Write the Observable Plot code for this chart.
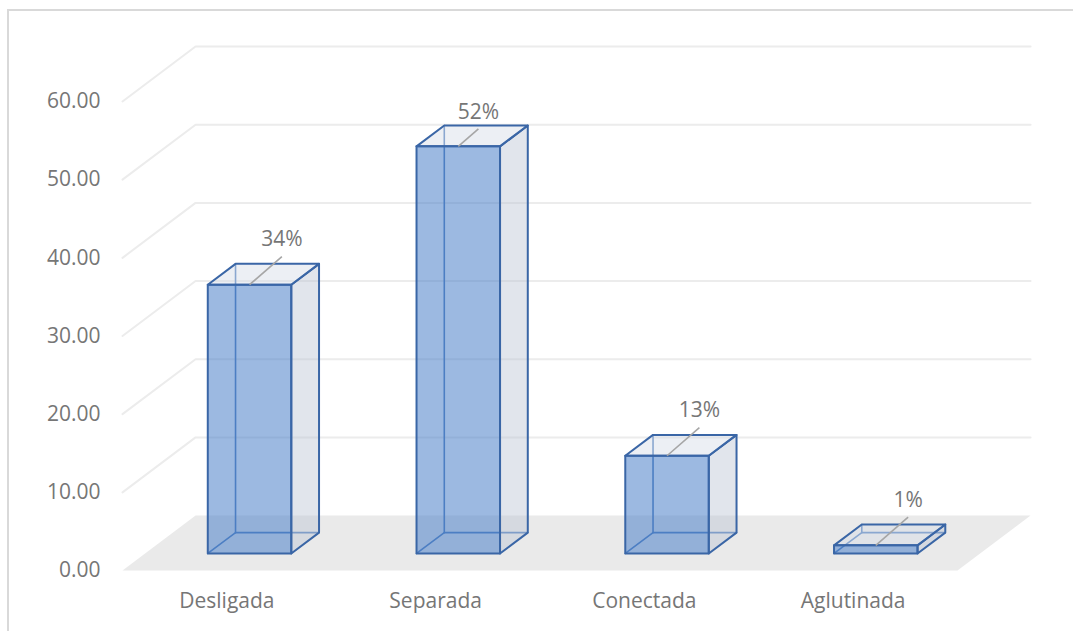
<!DOCTYPE html>
<html>
<head>
<meta charset="utf-8">
<script src="https://cdn.jsdelivr.net/npm/d3@7"></script>
<script src="https://cdn.jsdelivr.net/npm/@observablehq/plot@0.6"></script>
<style>
  html, body { margin: 0; padding: 0; background: #fff; }
  #wrap { position: relative; width: 1073px; height: 631px; overflow: hidden; }
  #border { position: absolute; left: 7px; top: 9px; width: 1100px; height: 700px;
            border-left: 2px solid #d9d9d9; border-top: 2px solid #d9d9d9; box-sizing: border-box; }
  #chart { position: absolute; left: 0; top: 0; }
</style>
</head>
<body>
<div id="wrap"><div id="border"></div><div id="chart"></div></div>
<script>
// ---- data ----
const categories = ["Desligada", "Separada", "Conectada", "Aglutinada"];
const values = [34.38, 52.08, 12.50, 1.04];
const labels = ["34%", "52%", "13%", "1%"];
const yTicks = [0, 10, 20, 30, 40, 50, 60];

// ---- oblique projection constants (in data units) ----
const DX = 0.35;   // depth shift along x (band units)
const DY = 7.03;   // depth shift along y (value units)
const P = (x, d, h) => ({x: x + d * DX, y: h + d * DY});
const d0 = 0.31, d1 = 0.69, bw = 0.4;

// floor
const floorPts = [P(0,0,0), P(4,0,0), P(4,1,0), P(0,1,0), P(0,0,0)].map(p => ({...p, z: "floor"}));

// gridlines (back wall + left wall)
const gridPts = [];
yTicks.filter(v => v > 0).forEach(v => {
  [P(0,0,v), P(0,1,v), P(4,1,v)].forEach(p => gridPts.push({...p, z: "g" + v}));
});

// bar faces
const sideFaces = [], topFaces = [], frontFaces = [], innerEdges = [];
values.forEach((v, i) => {
  const x0 = i + (1 - bw) / 2, x1 = x0 + bw;
  const poly = (arr, pts, id) => pts.concat([pts[0]]).forEach(p => arr.push({...p, z: id}));
  poly(sideFaces, [P(x1,d0,0), P(x1,d1,0), P(x1,d1,v), P(x1,d0,v)], "s" + i);
  poly(topFaces, [P(x0,d0,v), P(x1,d0,v), P(x1,d1,v), P(x0,d1,v)], "t" + i);
  poly(frontFaces, [P(x0,d0,0), P(x1,d0,0), P(x1,d0,v), P(x0,d0,v)], "f" + i);
  [[P(x0,d1,0), P(x0,d1,v)], [P(x0,d1,0), P(x1,d1,0)], [P(x0,d0,0), P(x0,d1,0)]]
    .forEach((seg, k) => seg.forEach(p => innerEdges.push({...p, z: "i" + i + k})));
});

// data labels with leaders
const maxY = 56.5;
const leaders = values.map((v, i) => {
  const cx = i + 0.5 + d0 * DX, ty = v + d0 * DY;
  const t = Math.min(1, (maxY - ty) / 3.6);
  return {x1: cx, y1: ty, x2: cx + 0.155 * t, y2: ty + 3.6 * t, label: labels[i]};
});

const edge = "#3a66a6";
const chart = Plot.plot({
  width: 1073,
  height: 631,
  marginLeft: 122,
  marginRight: 116,
  marginTop: 101,
  marginBottom: 61,
  style: {fontFamily: "'Open Sans', sans-serif", fontSize: "21px", color: "#767676", background: "transparent", overflow: "visible"},
  x: {domain: [0, 4]},
  y: {domain: [0, 60]},
  marks: [
    Plot.line(floorPts, {x: "x", y: "y", z: "z", fill: "#eaeaea", stroke: "none"}),
    Plot.line(gridPts, {x: "x", y: "y", z: "z", stroke: "#ececec", strokeWidth: 2}),
    Plot.line(innerEdges, {x: "x", y: "y", z: "z", stroke: "#4e7dbd", strokeWidth: 1.6}),
    Plot.line(sideFaces, {x: "x", y: "y", z: "z", fill: "#bdc6d4", fillOpacity: 0.45, stroke: edge, strokeWidth: 2, strokeLinejoin: "round"}),
    Plot.line(topFaces, {x: "x", y: "y", z: "z", fill: "#d5dbe6", fillOpacity: 0.45, stroke: edge, strokeWidth: 2, strokeLinejoin: "round"}),
    Plot.line(frontFaces, {x: "x", y: "y", z: "z", fill: "#4a7fc9", fillOpacity: 0.55, stroke: edge, strokeWidth: 2, strokeLinejoin: "round"}),
    Plot.link(leaders, {x1: "x1", y1: "y1", x2: "x2", y2: "y2", stroke: "#a6a6a6", strokeWidth: 1.6}),
    Plot.text(leaders, {x: "x2", y: "y2", text: "label", dy: -17, fill: "#767676", fontSize: 21}),
    Plot.axisY({ticks: yTicks, tickFormat: d => d.toFixed(2), tickSize: 0, tickPadding: 22, fontSize: 21, label: null}),
    Plot.axisX({ticks: categories.map((c, i) => i + 0.5), tickFormat: d => categories[Math.floor(d)], tickSize: 0, tickPadding: 23, fontSize: 21, label: null})
  ]
});
document.getElementById("chart").appendChild(chart);
</script>
</body>
</html>
